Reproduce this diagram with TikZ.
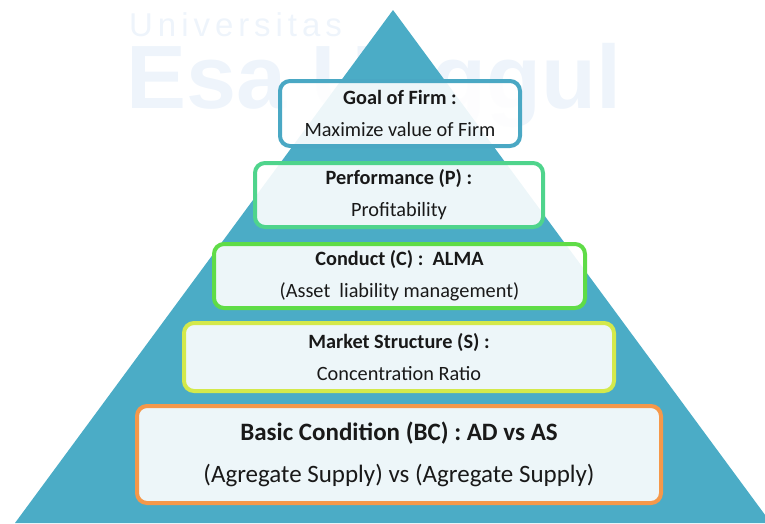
\documentclass[tikz,border=0pt]{standalone}
\usepackage{fontspec}
\setmainfont{Carlito}
\newfontfamily\markfont{Liberation Sans}
\usetikzlibrary{positioning}

\definecolor{pyrblue}{HTML}{4BACC6}
\definecolor{goalline}{HTML}{4AA8C4}
\definecolor{perfline}{HTML}{4FD48C}
\definecolor{condline}{HTML}{5FDC47}
\definecolor{mktline}{HTML}{D4E94B}
\definecolor{basicline}{HTML}{F5984A}
\definecolor{markblue}{HTML}{EEF4FB}

\begin{document}
\begin{tikzpicture}[x=1pt, y=-1pt,
        tier/.style={draw, line width=4pt, rounded corners=10pt, fill=white, fill opacity=0.9,
            text opacity=1, align=center, inner sep=0pt, text=black!90,
            font=\fontsize{20.3}{32}\selectfont},
        bigtier/.style={tier, font=\fontsize{25}{42}\selectfont},
        wmark/.style={inner sep=0pt, text=markblue, text depth=0pt}
    ]
        \useasboundingbox (0,0) rectangle (765,523);

        % watermark behind the pyramid
        \node[wmark, anchor=base west, text height=24pt, font=\markfont\addfontfeature{LetterSpace=15}\fontsize{33}{33}\selectfont] (univ) at (129,36) {Universitas};
        \node[wmark, anchor=base west, text height=64pt, font=\markfont\bfseries\fontsize{90}{90}\selectfont] (esa) at (126,108) {Esa Unggul};

        % pyramid
        \fill[pyrblue] (393,10) -- (771,523) -- (15,523) -- cycle;

        % tiers, top to bottom
        \node[tier, draw=goalline, minimum width=240, minimum height=65] (goal) at (400,113.5)
            {\textbf{Goal of Firm :}\\ Maximize value of Firm};
        \node[tier, draw=perfline, minimum width=288, minimum height=64] (perf) at (399,195)
            {\textbf{Performance (P) :}\\ Profitability};
        \node[tier, draw=condline, minimum width=371, minimum height=64] (cond) at (399.5,276)
            {\textbf{Conduct (C) :\ \ ALMA}\\ (Asset\ \ liability management)};
        \node[tier, draw=mktline, minimum width=430, minimum height=68] (mkt) at (399,357)
            {\textbf{Market Structure (S) :}\\ Concentration Ratio};
        \node[bigtier, draw=basicline, minimum width=524, minimum height=97] (basic) at (399,454.5)
            {\textbf{Basic Condition (BC) : AD vs AS}\\ (Agregate Supply) vs (Agregate Supply)};
    \end{tikzpicture}
\end{document}
